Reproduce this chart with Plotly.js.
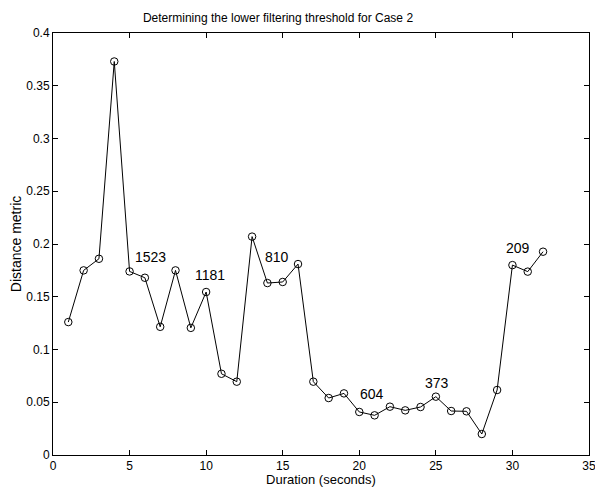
<!DOCTYPE html>
<html>
<head>
<meta charset="utf-8">
<script src="https://cdn.plot.ly/plotly-3.0.1.min.js"></script>
<style>html,body{margin:0;padding:0;background:#fff;}#chart{width:595px;height:487px;}</style>
</head>
<body>
<div id="chart"></div>
<script>
var durations = [1,2,3,4,5,6,7,8,9,10,11,12,13,14,15,16,17,18,19,20,21,22,23,24,25,26,27,28,29,30,31,32];
var distance = [0.126,0.175,0.186,0.373,0.174,0.168,0.1215,0.175,0.1205,0.1545,0.077,0.0695,0.207,0.163,0.164,0.181,0.0695,0.054,0.0584,0.0408,0.0376,0.0458,0.0423,0.0455,0.0553,0.0417,0.0414,0.0199,0.0616,0.180,0.1738,0.1927];
var labelTexts = ["1523","1181","810","604","373","209"];
var labelX = [5.2,9.15,13.7,19.92,24.18,29.42];
var labelY = [0.188,0.171,0.188,0.0575,0.068,0.196];
var xTicks = [0,5,10,15,20,25,30,35];
var yTicks = [0,0.05,0.1,0.15,0.2,0.25,0.3,0.35,0.4];
var yTickText = ["0","0.05","0.1","0.15","0.2","0.25","0.3","0.35","0.4"];

var font = "Liberation Sans, Arial, Helvetica, sans-serif";

var trace = {
  x: durations, y: distance, type: 'scatter', mode: 'lines+markers',
  line: {color: '#000', width: 1},
  marker: {symbol: 'circle-open', size: 7.5, color: '#000', line: {color: '#000', width: 1}},
  showlegend: false, hoverinfo: 'skip'
};

var annotations = labelTexts.map(function(t, i){
  return {x: labelX[i], y: labelY[i], xref: 'x', yref: 'y', text: t, showarrow: false,
          xanchor: 'left', yanchor: 'middle', font: {family: font, size: 14, color: '#000'}};
});

var axisCommon = {
  showgrid: false, zeroline: false, showline: true, linecolor: '#000', linewidth: 1,
  mirror: 'ticks', ticks: 'inside', ticklen: 5, tickwidth: 1, tickcolor: '#000',
  ticklabeloverflow: 'allow',
  tickfont: {family: font, size: 12, color: '#000'}, fixedrange: true
};

var layout = {
  width: 595, height: 487,
  margin: {l: 53, r: 6, t: 33, b: 32, pad: 0},
  paper_bgcolor: '#fff', plot_bgcolor: '#fff',
  title: {text: 'Determining the lower filtering threshold for Case 2',
          font: {family: font, size: 12, color: '#000'},
          xref: 'container', x: 278/595, xanchor: 'center', yref: 'container', y: 1 - 18/487, yanchor: 'middle'},
  xaxis: Object.assign({}, axisCommon, {
    range: [0, 35], tickvals: xTicks, ticktext: xTicks.map(String),
    title: {text: 'Duration (seconds)', font: {family: font, size: 13, color: '#000'}, standoff: 4}
  }),
  yaxis: Object.assign({}, axisCommon, {
    range: [0, 0.4], tickvals: yTicks, ticktext: yTickText,
    title: {text: 'Distance metric', font: {family: font, size: 14, color: '#000'}, standoff: 1}
  }),
  annotations: annotations
};

Plotly.newPlot('chart', [trace], layout, {displayModeBar: false, staticPlot: true});
</script>
</body>
</html>
